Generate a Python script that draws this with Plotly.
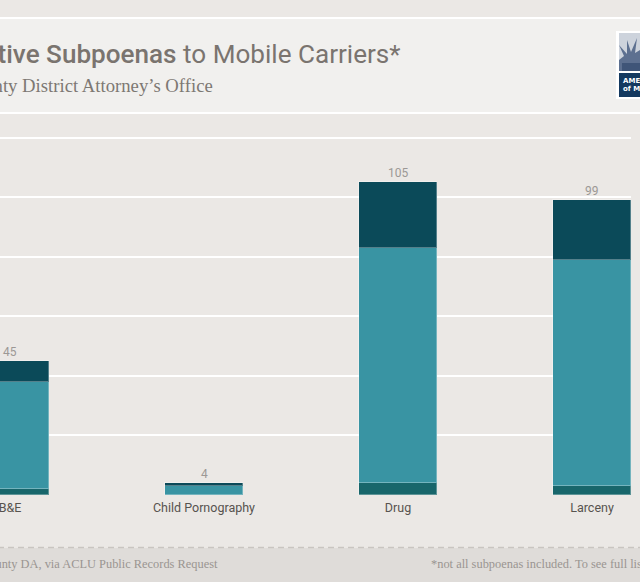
import plotly.graph_objects as go

# ---- data ----
categories = ["B&E", "Child Pornography", "Drug", "Larceny"]
seg_bottom = [2, 0, 4, 3]
seg_middle = [36, 3, 79, 76]
seg_top = [7, 1, 22, 20]
totals = [b + m + t for b, m, t in zip(seg_bottom, seg_middle, seg_top)]

title_bold = "Administrative Subpoenas"
title_rest = " to Mobile Carriers*"
subtitle = "Suffolk County District Attorney\u2019s Office"
source_txt = "Source: Suffolk County DA, via ACLU Public Records Request"
note_txt = "*not all subpoenas included. To see full list, click here."

# ---- layout geometry (pixels) ----
W, H = 640, 582
ML, MR, MT, MB = 0, 9, 123, 87
PW = W - ML - MR
PH = H - MT - MB
PX_PER_CAT = 194.0
X0_PX = 10.0  # pixel position of first category centre


def px(x):
    return (x - ML) / PW


def py(y):
    return (H - MB - y) / PH


xs = list(range(len(categories)))
bar_w = 78 / PX_PER_CAT
line_style = dict(color="rgba(255,255,255,0.3)", width=1)

fig = go.Figure()
fig.add_bar(x=xs, y=seg_bottom, width=bar_w, marker=dict(color="#18666b", line=line_style), hoverinfo="y")
fig.add_bar(x=xs, y=seg_middle, width=bar_w, marker=dict(color="#3994a3", line=line_style), hoverinfo="y")
fig.add_bar(x=xs, y=seg_top, width=bar_w, marker=dict(color="#0b4a59", line=line_style), hoverinfo="y")

annotations = []
for x, t in zip(xs, totals):
    annotations.append(dict(x=x, y=t, xref="x", yref="y", text=str(t), showarrow=False,
                            yanchor="bottom", yshift=0,
                            font=dict(family="Roboto", size=12, color="#9c9895")))

# title / subtitle
annotations.append(dict(xref="paper", yref="paper", x=px(403), y=py(54), xanchor="right", yanchor="middle",
                        showarrow=False,
                        text=f"<span style='font-weight:500'>{title_bold}</span>{title_rest}",
                        font=dict(family="Roboto", size=26.1, color="#7a746f")))
annotations.append(dict(xref="paper", yref="paper", x=px(215), y=py(85), xanchor="right", yanchor="middle",
                        showarrow=False, text=subtitle,
                        font=dict(family="Liberation Serif", size=18.7, color="#7d7873")))
# footer
annotations.append(dict(xref="paper", yref="paper", x=px(220), y=py(563.5), xanchor="right", yanchor="middle",
                        showarrow=False, text=source_txt,
                        font=dict(family="Liberation Serif", size=12.4, color="#9a9591")))
annotations.append(dict(xref="paper", yref="paper", x=px(429), y=py(563.5), xanchor="left", yanchor="middle",
                        showarrow=False, text=note_txt,
                        font=dict(family="Liberation Serif", size=12.4, color="#9a9591")))
# logo text
annotations.append(dict(xref="paper", yref="paper", x=px(621), y=py(80.5), xanchor="left", yanchor="middle",
                        showarrow=False, text="<b>AMERICAN CIVIL LIBERTIES UNION</b>",
                        font=dict(family="DejaVu Sans", size=7, color="white")))
annotations.append(dict(xref="paper", yref="paper", x=px(621), y=py(89), xanchor="left", yanchor="middle",
                        showarrow=False, text="<b>of MASSACHUSETTS</b>",
                        font=dict(family="DejaVu Sans", size=7, color="white")))

shapes = [
    # header band
    dict(type="rect", xref="paper", yref="paper", x0=px(-5), x1=px(650), y0=py(18), y1=py(113),
         fillcolor="#f1f0ee", line=dict(color="white", width=2), layer="below"),
    # footer band
    dict(type="rect", xref="paper", yref="paper", x0=px(-5), x1=px(650), y0=py(548), y1=py(590),
         fillcolor="#dfdcd9", line=dict(width=0), layer="below"),
    dict(type="line", xref="paper", yref="paper", x0=px(-2), x1=px(645), y0=py(547.5), y1=py(547.5),
         line=dict(color="#c9c5c1", width=1.5, dash="6px,4px"), layer="below"),
    # logo
    dict(type="rect", xref="paper", yref="paper", x0=px(616), x1=px(645), y0=py(31), y1=py(99),
         fillcolor="white", line=dict(width=0), layer="above"),
    dict(type="rect", xref="paper", yref="paper", x0=px(619), x1=px(645), y0=py(33), y1=py(71),
         fillcolor="#cdd3dc", line=dict(width=0), layer="above"),
    dict(type="path", xref="paper", yref="paper", layer="above", fillcolor="#5d7090", line=dict(width=0),
         path=(f"M {px(619)} {py(71)} L {px(619)} {py(60)} L {px(624)} {py(56)} L {px(619)} {py(45)} "
               f"L {px(627)} {py(54)} L {px(627)} {py(40)} L {px(631)} {py(52)} L {px(637)} {py(38)} "
               f"L {px(635)} {py(53)} L {px(640)} {py(50)} L {px(640)} {py(71)} Z")),
    dict(type="rect", xref="paper", yref="paper", x0=px(622), x1=px(640), y0=py(63), y1=py(71),
         fillcolor="#3f5578", line=dict(width=0), layer="above"),
    dict(type="rect", xref="paper", yref="paper", x0=px(619), x1=px(645), y0=py(73), y1=py(97),
         fillcolor="#14395f", line=dict(width=0), layer="above"),
]

fig.update_layout(
    width=W, height=H,
    barmode="stack", bargap=0,
    showlegend=False,
    paper_bgcolor="#ebe8e5", plot_bgcolor="#ebe8e5",
    margin=dict(l=ML, r=MR, t=MT, b=MB, autoexpand=False),
    xaxis=dict(range=[-X0_PX / PX_PER_CAT, (PW - X0_PX) / PX_PER_CAT], tickvals=xs, ticktext=categories,
               showgrid=False, zeroline=False, showline=False, ticks="", fixedrange=True,
               ticklabeloverflow="allow", ticklabelstandoff=3,
               tickfont=dict(family="Roboto", size=12.5, color="#57534f")),
    yaxis=dict(range=[0, PH / 2.979], dtick=20, tick0=0, showticklabels=False, gridcolor="white",
               gridwidth=1.6, zeroline=False, showline=False, fixedrange=True),
    annotations=annotations,
    shapes=shapes,
)

fig.write_html("out.html", config={"displayModeBar": False},
               post_script="document.body.style.margin='0px';document.body.style.background='#ebe8e5';")
